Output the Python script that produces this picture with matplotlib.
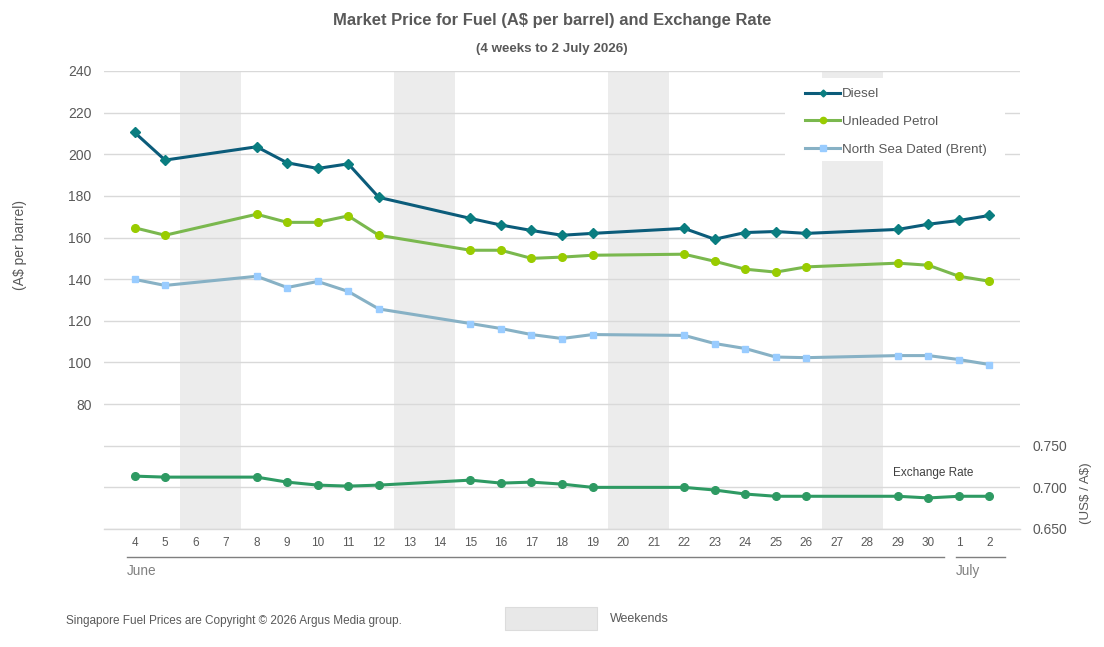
import matplotlib.pyplot as plt
from matplotlib.lines import Line2D
from matplotlib.patches import Rectangle
import matplotlib.transforms as mtransforms

plt.rcParams['font.family'] = ['Liberation Sans', 'DejaVu Sans']

# x axis: every calendar day, 4 June .. 2 July
day_labels = [str(d) for d in range(4, 31)] + ['1', '2']
trading_days = ['4', '5', '8', '9', '10', '11', '12', '15', '16', '17', '18',
                '19', '22', '23', '24', '25', '26', '29', '30', '1', '2']
weekends = [('6', '7'), ('13', '14'), ('20', '21'), ('27', '28')]

diesel = [210.5, 197.2, 203.6, 195.9, 193.2, 195.4, 179.3, 169.2, 166.0, 163.4, 161.1,
          162.0, 164.4, 159.2, 162.4, 162.9, 162.0, 163.9, 166.4, 168.2, 170.6]
unleaded = [164.7, 161.1, 171.2, 167.3, 167.3, 170.4, 161.1, 153.9, 153.9, 150.0, 150.6,
            151.5, 152.0, 148.6, 144.8, 143.4, 145.9, 147.7, 146.7, 141.4, 139.0]
brent = [139.9, 137.0, 141.4, 136.0, 138.9, 134.1, 125.7, 118.7, 116.3, 113.4, 111.5,
         113.4, 113.0, 109.1, 106.7, 102.6, 102.3, 103.3, 103.3, 101.4, 99.0]
exchange = [0.7135, 0.7123, 0.7123, 0.7063, 0.7027, 0.7015, 0.7027, 0.7087, 0.7051, 0.7063, 0.7039,
            0.7000, 0.7000, 0.6968, 0.6920, 0.6893, 0.6893, 0.6893, 0.6873, 0.6893, 0.6893]

left_ticks = list(range(20, 241, 20))
right_ticks = [0.650, 0.700, 0.750]

GREY = '#595959'

fig = plt.figure(figsize=(11.04, 6.47), dpi=100)
ax = fig.add_axes([104 / 1104, 1 - 529 / 647, 916 / 1104, 458 / 647])
ax2 = ax.twinx()

x = [day_labels.index(d) for d in trading_days]

for a, b in weekends:
    ax.axvspan(day_labels.index(a) - 0.5, day_labels.index(b) + 0.5,
               color='#ececec', zorder=0, lw=0)

ax.plot(x, diesel, color='#0B5C7A', lw=2.2, marker='D', ms=5.5,
        mfc='#0A7D80', mec='#0A7D80', zorder=3)
ax.plot(x, unleaded, color='#7AB84E', lw=2.2, marker='o', ms=5.5,
        mfc='#99CC00', mec='#99CC00', zorder=3)
ax.plot(x, brent, color='#87B1C5', lw=2.2, marker='s', ms=5,
        mfc='#99CCFF', mec='#99CCFF', zorder=3)
ax2.plot(x, exchange, color='#2E9A63', lw=2.2, marker='o', ms=5.5, zorder=3)

ax.set_xlim(-1, 29)
ax.set_ylim(20, 240)
ax2.set_ylim(0.65, 1.20)

ax.set_yticks(left_ticks)
ax.set_yticklabels(['' if v < 80 else str(v) for v in left_ticks])
ax.grid(axis='y', color='#d9d9d9', lw=1)
ax.set_axisbelow(True)
ax.axhline(20, color='#d9d9d9', lw=1, clip_on=False, zorder=0.5)
ax.set_xticks(range(len(day_labels)))
ax.set_xticklabels(day_labels)
ax.tick_params(axis='x', length=0, pad=6, labelsize=8.5, labelcolor=GREY)
ax.tick_params(axis='y', length=0, pad=9, labelsize=10, labelcolor=GREY)

ax2.set_yticks(right_ticks)
ax2.set_yticklabels(['%.3f' % v for v in right_ticks])
ax2.tick_params(axis='y', length=0, pad=9, labelsize=10, labelcolor=GREY)

for s in ax.spines.values():
    s.set_visible(False)
for s in ax2.spines.values():
    s.set_visible(False)

# month brackets under the day labels
trans = mtransforms.blended_transform_factory(ax.transData, ax.transAxes)
ax.plot([-0.25, 26.5], [-0.061, -0.061], color='#7f7f7f', lw=1, transform=trans, clip_on=False)
ax.plot([26.9, 28.5], [-0.061, -0.061], color='#7f7f7f', lw=1, transform=trans, clip_on=False)
ax.text(-0.25, -0.092, 'June', transform=trans, fontsize=9.8, color='#808080', va='center')
ax.text(26.9, -0.092, 'July', transform=trans, fontsize=9.8, color='#808080', va='center')

# legend sits on a white block that hides grid and shading
ax2.add_patch(Rectangle((785 / 1104, 1 - 161 / 647), 220 / 1104, 83 / 647,
                        transform=fig.transFigure, facecolor='white', edgecolor='none',
                        zorder=5, clip_on=False))
handles = [
    Line2D([], [], color='#0B5C7A', lw=2.2, marker='D', ms=3.5, mfc='#0A7D80', mec='#0A7D80'),
    Line2D([], [], color='#7AB84E', lw=2.2, marker='o', ms=4.5, mfc='#99CC00', mec='#99CC00'),
    Line2D([], [], color='#87B1C5', lw=2.2, marker='s', ms=5, mfc='#99CCFF', mec='#99CCFF'),
]
leg = ax2.legend(handles, ['Diesel', 'Unleaded Petrol', 'North Sea Dated (Brent)'],
                 loc='upper left', bbox_to_anchor=(805 / 1104, 1 - 88 / 647),
                 bbox_transform=fig.transFigure, frameon=False, fontsize=9.6,
                 borderpad=0, borderaxespad=0, handlelength=2.65, handletextpad=0.15,
                 labelspacing=1.15, labelcolor=GREY)
leg.set_zorder(6)

fig.text(893 / 1104, 1 - 473 / 647, 'Exchange Rate', fontsize=8.5, color='#404040', va='center')

fig.text(0.5, 1 - 20 / 647, r'Market Price for Fuel (A\$ per barrel) and Exchange Rate',
         ha='center', va='center', fontsize=11.9, fontweight='bold', color=GREY)
fig.text(0.5, 1 - 49 / 647, '(4 weeks to 2 July 2026)',
         ha='center', va='center', fontsize=9.6, fontweight='bold', color=GREY)

fig.text(20 / 1104, 1 - 245 / 647, r'(A\$ per barrel)', rotation=90,
         ha='center', va='center', fontsize=10, color=GREY)
fig.text(1086 / 1104, 1 - 493 / 647, r'(US\$ / A\$)', rotation=90,
         ha='center', va='center', fontsize=9.6, color=GREY)

fig.text(66 / 1104, 1 - 621 / 647, 'Singapore Fuel Prices are Copyright © 2026 Argus Media group.',
         fontsize=8.5, color=GREY, va='center')
fig.patches.append(Rectangle((505 / 1104, 1 - 630 / 647), 92 / 1104, 23 / 647,
                             transform=fig.transFigure, facecolor='#e8e8e8',
                             edgecolor='#dcdcdc', lw=0.8))
fig.text(610 / 1104, 1 - 619 / 647, 'Weekends', fontsize=9, color=GREY, va='center')

fig.savefig('out.png', dpi=100)
